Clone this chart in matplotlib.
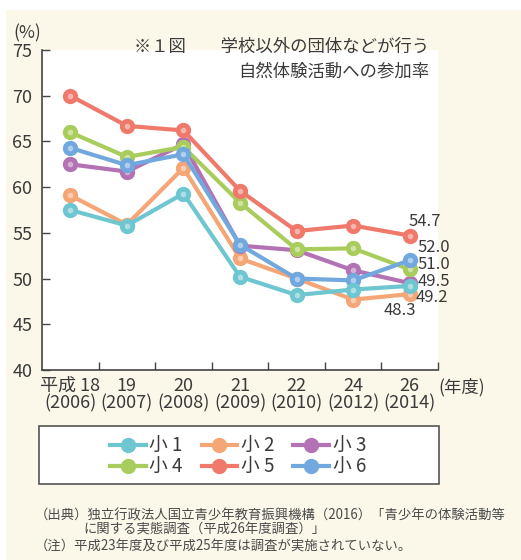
import matplotlib.pyplot as plt
from matplotlib.patches import Rectangle
from matplotlib.lines import Line2D

plt.rcParams['font.family'] = ['Noto Sans CJK JP', 'DejaVu Sans']

# Survey years (Heisei / western) and participation rates per grade
years = ['平成 18\n(2006)', '19\n(2007)', '20\n(2008)', '21\n(2009)',
         '22\n(2010)', '24\n(2012)', '26\n(2014)']
grades = ['小 1', '小 2', '小 3', '小 4', '小 5', '小 6']
g1 = [57.5, 55.8, 59.3, 50.2, 48.2, 48.8, 49.2]
g2 = [59.1, 55.9, 62.1, 52.2, 50.0, 47.7, 48.3]
g3 = [62.5, 61.7, 64.7, 53.6, 53.1, 50.9, 49.5]
g4 = [66.0, 63.3, 64.4, 58.3, 53.2, 53.3, 51.0]
g5 = [70.0, 66.7, 66.2, 59.6, 55.2, 55.8, 54.7]
g6 = [64.3, 62.4, 63.6, 53.7, 50.0, 49.8, 52.0]
series = [g1, g2, g3, g4, g5, g6]
colors = ['#6ec6d0', '#f5a676', '#b272b4', '#a9cd5c', '#ef796a', '#71a9de']
layer = [6, 1, 2, 3, 4, 5]   # cyan drawn on top, orange at the back

# end-of-line value labels: (dx, dy) offset in points, horizontal alignment
end_labels = [(4, -8.5, 'left'), (-7, -11.5, 'center'), (6, 1.0, 'left'),
              (6, 3.5, 'left'), (-1, 10.5, 'left'), (6, 9.0, 'left')]

txt = '#3a3a3a'
cream = '#fcf8e9'

fig = plt.figure(figsize=(5.21, 5.60), dpi=100, facecolor='white')
fig.patches.append(Rectangle((6 / 521, 0), 1, 550 / 560, transform=fig.transFigure,
                             facecolor=cream, edgecolor='none', zorder=-10))

ax = fig.add_axes([42 / 521, 190 / 560, 396 / 521, 320 / 560])
ax.set_facecolor('white')

x = list(range(len(years)))
for vals, col, name, z, lab in zip(series, colors, grades, layer, end_labels):
    ax.plot(x, vals, color=col, lw=3, marker='o', ms=10,
            mfc=col, mec=col, zorder=2 + z, label=name)
    # little highlight on each ball
    ax.plot(x, vals, ls='none', marker='o', ms=4, mfc='white', mec='none',
            alpha=0.45, zorder=2.5 + z)
    ax.annotate(f'{vals[-1]:.1f}', (x[-1], vals[-1]), xytext=lab[:2],
                textcoords='offset points', ha=lab[2], va='center',
                fontsize=12, color=txt, zorder=20)

ax.set_xlim(-0.5, 6.5)
ax.set_ylim(40, 75)
ax.set_yticks(range(40, 76, 5))
ax.set_xticks(x)
ax.set_xticklabels(years, linespacing=0.95)
ax.set_xticks([i + 0.5 for i in x], minor=True)
ax.tick_params(axis='x', which='major', length=0, pad=5, labelsize=13, labelcolor=txt)
ax.tick_params(axis='x', which='minor', direction='in', length=6, width=1, color='#444')
ax.tick_params(axis='y', direction='in', length=6, width=1, color='#444',
               pad=7, labelsize=13, labelcolor=txt)
for s in ['top', 'right']:
    ax.spines[s].set_visible(False)
for s in ['left', 'bottom']:
    ax.spines[s].set_color('#444')
    ax.spines[s].set_linewidth(1.2)

fig.text(13 / 521, 1 - 33 / 560, '(%)', fontsize=12.5, color=txt, va='center')
fig.text(438 / 521, 1 - 387 / 560, '(年度)', fontsize=12.5, color=txt, va='center')
fig.text(429 / 521, 1 - 59 / 560, '※１図　　学校以外の団体などが行う\n自然体験活動への参加率',
         ha='right', va='center', multialignment='right', fontsize=12.5,
         color=txt, linespacing=1.5, zorder=30)

# legend: framed box, entries laid out row-wise
fig.patches.append(Rectangle((39 / 521, 1 - 484 / 560), 400 / 521, 58 / 560,
                             transform=fig.transFigure, facecolor='white',
                             edgecolor='#555', lw=1.2))
order = [0, 3, 1, 4, 2, 5]
leg_h = [Line2D([], [], color=colors[i], lw=3, marker='o', ms=10) for i in order]
fig.legend(leg_h, [grades[i] for i in order], ncol=3, frameon=False,
           loc='center', bbox_to_anchor=(238 / 521, 1 - 457 / 560),
           fontsize=13.5, handlelength=1.9, handletextpad=0.2, columnspacing=1.0,
           labelspacing=0.0, labelcolor=txt)

note = '#4a4a4a'
fig.text(35 / 521, 1 - 516 / 560,
         '（出典）独立行政法人国立青少年教育振興機構（2016）「青少年の体験活動等',
         fontsize=9.6, color=note, va='center')
fig.text(83 / 521, 1 - 530 / 560, 'に関する実態調査（平成26年度調査）」',
         fontsize=9.6, color=note, va='center')
fig.text(35 / 521, 1 - 547 / 560,
         '（注）平成23年度及び平成25年度は調査が実施されていない。',
         fontsize=9.6, color=note, va='center')

fig.savefig('out.png', dpi=100, facecolor=fig.get_facecolor())
